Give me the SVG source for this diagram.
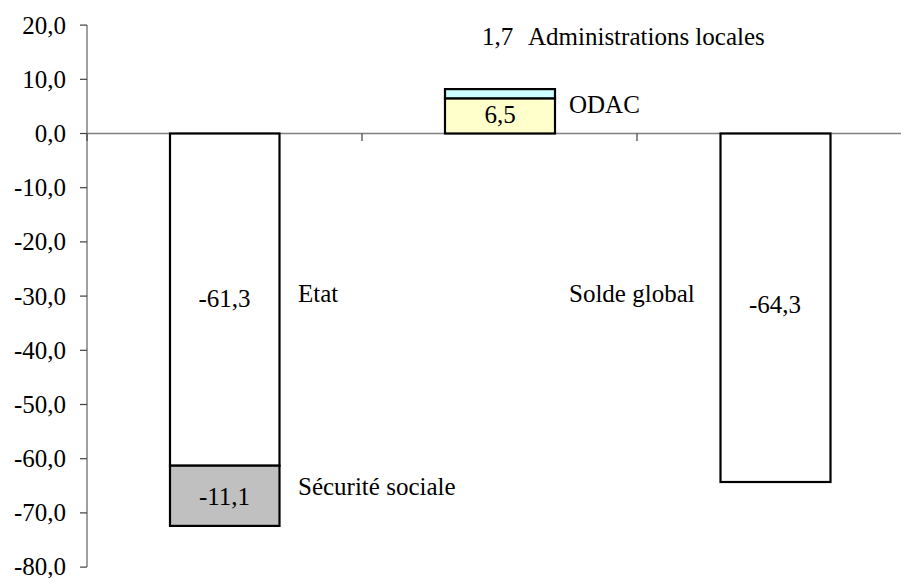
<svg xmlns="http://www.w3.org/2000/svg" width="901" height="578" viewBox="0 0 901 578" font-family="'Liberation Serif', Tinos, 'Times New Roman', Times, 'DejaVu Serif', serif">
<style>
text{font-family:'Liberation Serif', Tinos, 'Times New Roman', Times, 'DejaVu Serif', serif;font-size:25px;fill:#000}
.ax{text-anchor:end}
.mid{text-anchor:middle}
.axis{stroke:#808080;stroke-width:1.5;fill:none}
.tick{stroke:#404040;stroke-width:1.2;fill:none}
.bar{stroke:#000;stroke-width:2.2}
</style>
<rect width="901" height="578" fill="#fff"/>
<g id="axes">
<line class="axis" x1="87" y1="25" x2="87" y2="567"/>
<line class="axis" x1="87" y1="133.5" x2="901" y2="133.5"/>
<g class="tick">
<line x1="80" y1="25.1" x2="87" y2="25.1"/>
<line x1="80" y1="79.3" x2="87" y2="79.3"/>
<line x1="80" y1="133.5" x2="87" y2="133.5"/>
<line x1="80" y1="187.7" x2="87" y2="187.7"/>
<line x1="80" y1="241.9" x2="87" y2="241.9"/>
<line x1="80" y1="296.1" x2="87" y2="296.1"/>
<line x1="80" y1="350.3" x2="87" y2="350.3"/>
<line x1="80" y1="404.5" x2="87" y2="404.5"/>
<line x1="80" y1="458.7" x2="87" y2="458.7"/>
<line x1="80" y1="512.9" x2="87" y2="512.9"/>
<line x1="80" y1="567.1" x2="87" y2="567.1"/>
<line x1="87" y1="133.5" x2="87" y2="141"/>
<line x1="362" y1="133.5" x2="362" y2="141"/>
<line x1="637" y1="133.5" x2="637" y2="141"/>
</g>
<g class="ax">
<text x="66" y="33.6">20,0</text>
<text x="66" y="87.8">10,0</text>
<text x="66" y="142">0,0</text>
<text x="66" y="196.2">-10,0</text>
<text x="66" y="250.4">-20,0</text>
<text x="66" y="304.6">-30,0</text>
<text x="66" y="358.8">-40,0</text>
<text x="66" y="413">-50,0</text>
<text x="66" y="467.2">-60,0</text>
<text x="66" y="521.4">-70,0</text>
<text x="66" y="575">-80,0</text>
</g>
</g>
<g id="etat">
<rect class="bar" x="170" y="133.5" width="109.5" height="332.2" fill="#fff"/>
<text class="mid" x="224.5" y="307">-61,3</text>
<text x="298" y="301.5">Etat</text>
</g>
<g id="securite-sociale">
<rect class="bar" x="170" y="465.7" width="109.5" height="60.2" fill="#c0c0c0"/>
<text class="mid" x="224.5" y="505">-11,1</text>
<text x="298" y="495">Sécurité sociale</text>
</g>
<g id="odac">
<rect class="bar" x="445" y="98.3" width="110" height="35.2" fill="#ffffcc"/>
<text class="mid" x="500" y="123.3">6,5</text>
<text x="569" y="113.3">ODAC</text>
</g>
<g id="administrations-locales">
<rect class="bar" x="445" y="89.1" width="110" height="9.2" fill="#ccffff"/>
<text x="482" y="45">1,7</text>
<text x="528" y="45">Administrations locales</text>
</g>
<g id="solde-global">
<rect class="bar" x="720.5" y="133.5" width="110" height="348.5" fill="#fff"/>
<text class="mid" x="775" y="313.3">-64,3</text>
<text x="569" y="301.5">Solde global</text>
</g>
</svg>
